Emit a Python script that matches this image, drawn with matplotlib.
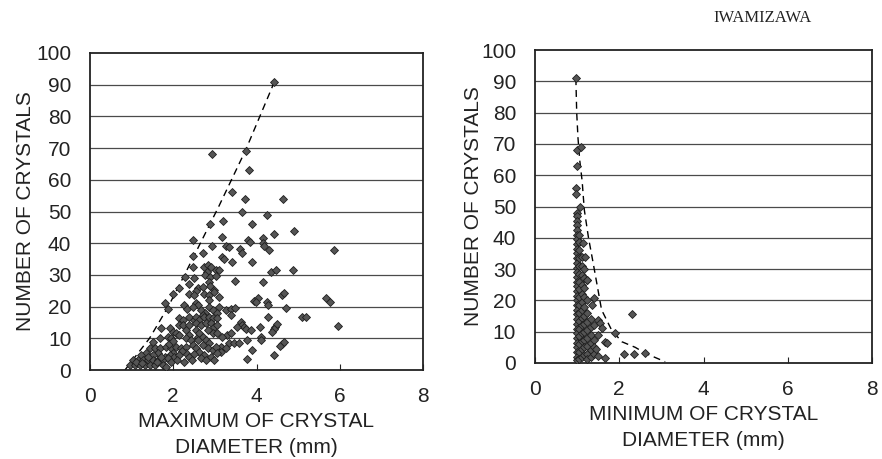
import matplotlib
matplotlib.use("Agg")
import matplotlib.pyplot as plt

# ---------------- data ----------------
title_text = "IWAMIZAWA"
y_label = "NUMBER OF CRYSTALS"
x_label_left = "MAXIMUM OF CRYSTAL\nDIAMETER (mm)"
x_label_right = "MINIMUM OF CRYSTAL\nDIAMETER (mm)"
x_ticks = [0, 2, 4, 6, 8]
y_ticks = [0, 10, 20, 30, 40, 50, 60, 70, 80, 90, 100]

# left panel: maximum diameter vs number of crystals
max_points = [
    (4.42, 91), (2.94, 68), (3.74, 69), (3.83, 63),
    (3.42, 56), (3.73, 54), (4.64, 54),
    (3.65, 50), (4.25, 49), (2.88, 46), (3.19, 47), (3.89, 46),
    (4.43, 43), (4.90, 44), (2.47, 41), (3.17, 42), (3.80, 41), (3.84, 40.5), (4.15, 41.5), (4.16, 40),
    (5.85, 38), (2.92, 39), (3.26, 39), (3.34, 38.7), (3.60, 38.3), (3.64, 37), (4.17, 39), (4.31, 38),
    (2.48, 36), (2.71, 37), (3.18, 35.7), (3.22, 35),
    (3.42, 34), (3.90, 34), (4.36, 31), (4.46, 31.5), (4.87, 31.5), (2.48, 32.6), (2.73, 32.6),
    (2.83, 33.1), (2.91, 32.6), (2.80, 31), (2.77, 30), (3.02, 31.5), (3.10, 31.5),
    (2.29, 29.2), (2.51, 29), (2.88, 29.2), (3.02, 29.7), (3.49, 28.1), (4.16, 27.7), (2.13, 25.8),
    (2.39, 27), (2.59, 26), (2.71, 26.3), (2.87, 27.7), (2.89, 26.6), (2.55, 25), (2.99, 25.2),
    (2.00, 24.1), (2.37, 24.1), (2.51, 23.7), (2.75, 24.1), (2.87, 23.7), (2.99, 24.7), (3.09, 23.1),
    (2.87, 22.1), (3.94, 21.9), (4.03, 22.6), (3.98, 21.3), (4.25, 21.5), (4.27, 20.4), (4.61, 23.7),
    (4.67, 24.3), (5.67, 22.6), (5.77, 21.5), (1.79, 21), (2.27, 20.5), (2.55, 21), (2.59, 20.5),
    (2.87, 20), (3.10, 20),
    (1.87, 19.4), (2.32, 19.4), (2.47, 20), (2.67, 18.9), (2.95, 18.9), (2.76, 18), (3.06, 17.9),
    (3.26, 18.9), (3.38, 19.4), (3.48, 19.5), (3.38, 17.4), (2.71, 17.4), (4.72, 19.7), (4.28, 16.6),
    (5.09, 16.8), (5.19, 16.8), (2.15, 16.3), (2.23, 15.8), (2.39, 16.8), (2.51, 15.8), (2.55, 16.8),
    (2.63, 15.8), (2.75, 16.8), (2.87, 16.8), (2.95, 16.3), (3.06, 16.3), (3.62, 15.2),
    (5.95, 13.9), (4.44, 13.7), (4.50, 14.5), (3.66, 14.2), (3.70, 13.7), (3.74, 12.8), (3.54, 13.7),
    (3.87, 12.5), (4.08, 13.6), (4.42, 12.8), (4.38, 12.1), (3.30, 11), (3.38, 11.6), (3.18, 10.5),
    (4.10, 10.5), (2.15, 14.2), (2.23, 14.2), (2.39, 14.2), (2.55, 14.7), (2.67, 14.2), (2.79, 14.7),
    (2.91, 14.7), (2.99, 13.7), (3.06, 14.2), (1.91, 13.2), (1.71, 13.2), (1.99, 12.1), (2.07, 11.6),
    (2.15, 11), (2.31, 12.6), (2.39, 11), (2.31, 10), (2.55, 12.6), (2.59, 10.5), (2.63, 11.6),
    (2.71, 10.5), (2.83, 12.6), (2.95, 11.6), (3.06, 11.6), (1.87, 10.5), (1.95, 10), (1.67, 10),
    (4.61, 8.2), (4.57, 7.5), (4.66, 8.9), (4.10, 9.5), (3.78, 9.5), (3.90, 6.3), (3.34, 8.4),
    (3.46, 8.4), (3.58, 8.4), (3.18, 6.8), (3.14, 7.4), (3.26, 6.8), (3.14, 5.8), (1.51, 8.9),
    (2.43, 9.5), (2.59, 9.5), (2.79, 9.5), (2.87, 8.4), (1.43, 6.8), (1.55, 6.8), (1.67, 6.8),
    (1.83, 7.4), (1.95, 6.8), (2.07, 7.4), (2.19, 7), (2.31, 7.4), (2.47, 8), (2.55, 6.8),
    (2.71, 7.9), (2.83, 6.8), (2.95, 6.3), (3.03, 7.4), (3.06, 5.3), (2.63, 5.8), (1.35, 5.3),
    (1.63, 5.3), (2.31, 5.3), (1.90, 8.2), (2.00, 9), (2.20, 6), (2.00, 5.5), (2.50, 5),
    (4.42, 4.7), (3.76, 3.5), (1.23, 4.7), (1.51, 4.7), (1.79, 4.2), (1.91, 4.7), (2.03, 4.2),
    (2.15, 4.7), (2.39, 4.2), (2.91, 4.2), (2.75, 4.7), (2.99, 3.2), (2.67, 3.7), (2.79, 3.2),
    (1.03, 3.2), (1.15, 3.2), (1.27, 3.2), (1.39, 3.2), (1.51, 3.2), (1.63, 3.2), (1.75, 3.2),
    (1.87, 3.7), (1.95, 2.6), (0.95, 1.6), (1.07, 1.6), (1.19, 1.6), (1.31, 1.6), (1.43, 1.6),
    (1.55, 1.6), (1.75, 1.6), (1.83, 1.1), (1.10, 2.5), (1.25, 2.2), (1.40, 4.0), (1.60, 2.4),
    (1.70, 4.0), (2.10, 3.0), (2.25, 2.5), (2.45, 3.0),
]
max_curve_x = [0.84, 1.43, 1.88, 2.27, 3.09, 3.74, 4.42]
max_curve_y = [0, 10, 20, 30, 51.5, 69.4, 90.6]

# right panel: minimum diameter vs number of crystals
min_points = [
    (0.97, 91), (0.99, 68), (1.09, 69), (0.99, 63), (0.97, 56), (0.97, 54),
    (0.99, 48), (1.07, 50), (0.99, 47),
    (0.99, 45.5), (0.99, 44), (0.99, 42.5), (0.99, 41), (0.99, 39.5), (0.99, 38), (0.99, 36.5),
    (0.99, 35), (0.99, 33.5), (0.99, 32), (0.99, 30.5), (0.99, 29), (0.99, 27.5), (0.99, 26),
    (0.99, 24.5), (0.99, 23), (0.99, 21.5), (0.99, 20), (0.99, 18.5), (0.99, 17), (0.99, 15.5),
    (0.99, 14), (0.99, 12.5), (0.99, 11), (0.99, 9.5), (0.99, 8), (0.99, 6.5), (0.99, 5),
    (0.99, 3.5), (0.99, 2), (0.99, 1),
    (1.05, 41), (1.05, 38.5), (1.05, 36), (1.05, 33.5), (1.05, 31), (1.05, 28.5), (1.05, 26),
    (1.05, 23.5), (1.05, 21), (1.05, 18.5), (1.05, 16), (1.05, 13.5), (1.05, 11), (1.05, 8.5),
    (1.05, 6), (1.05, 3.5), (1.05, 1.2),
    (1.11, 34), (1.11, 31), (1.11, 28), (1.11, 25), (1.11, 22), (1.11, 19.5), (1.11, 17),
    (1.11, 14.5), (1.11, 12), (1.11, 9.5), (1.11, 7), (1.11, 4.5), (1.11, 2),
    (1.17, 30), (1.17, 27), (1.17, 24), (1.17, 21), (1.17, 18), (1.17, 15), (1.17, 12.5),
    (1.17, 10), (1.17, 7.5), (1.17, 5), (1.17, 2.5),
    (1.24, 26.5), (1.24, 20), (1.24, 16), (1.24, 13), (1.24, 10.5), (1.24, 8), (1.24, 5.5),
    (1.24, 3), (1.24, 1.2),
    (1.32, 14), (1.32, 11.5), (1.32, 9), (1.32, 6.5), (1.32, 4), (1.32, 1.8),
    (1.40, 12), (1.40, 7.5), (1.40, 5), (1.40, 3),
    (1.15, 38.2), (1.19, 34), (1.23, 26.5), (1.41, 20.7), (1.36, 18.5), (2.31, 15.8),
    (1.50, 13.7), (1.54, 12.7), (1.58, 11.1), (1.50, 8.9), (1.66, 6.8), (1.72, 6.3),
    (1.90, 9.7), (1.66, 1.5), (2.12, 2.9), (2.34, 2.9), (2.61, 3.3), (1.45, 4.5), (1.50, 2.2),
]
min_curve_x = [0.97, 0.99, 1.02, 1.06, 1.12, 1.17, 1.27, 1.38, 1.50, 1.58, 1.82, 2.06, 2.38, 2.62, 3.09]
min_curve_y = [91, 80, 72, 65, 58, 49, 40, 32, 23, 17, 10.5, 6.8, 5.0, 3.1, 0.4]

# ---------------- drawing ----------------
plt.rcParams['font.family'] = ['Liberation Sans', 'DejaVu Sans']

fig = plt.figure(figsize=(8.82, 4.59), dpi=100)
ax1 = fig.add_axes([90 / 882, 1 - 370 / 459, 333 / 882, 317 / 459])
ax2 = fig.add_axes([535 / 882, 1 - 363 / 459, 337 / 882, 313 / 459])

panels = [
    (ax1, max_points, max_curve_x, max_curve_y, x_label_left, 1),
    (ax2, min_points, min_curve_x, min_curve_y, x_label_right, -1),
]

for ax, pts, cx, cy, xl, ypad in panels:
    xs = [p[0] for p in pts]
    ys = [p[1] for p in pts]
    ax.set_xlim(0, 8)
    ax.set_ylim(0, 100)
    for yv in y_ticks[1:-1]:
        ax.axhline(yv, color='#4a4a4a', lw=0.9, zorder=1)
    ax.plot(cx, cy, color='black', lw=1.0, linestyle=(0, (5, 3.5)), zorder=2)
    ax.plot(xs, ys, linestyle='none', marker='D', markersize=4.4,
            markerfacecolor='#555555', markeredgecolor='#1e1e1e',
            markeredgewidth=0.6, zorder=3)
    ax.set_xticks(x_ticks)
    ax.set_yticks(y_ticks)
    ax.tick_params(axis='x', direction='in', length=4, width=0.8, pad=12.5,
                   labelsize=15, colors='#222222')
    ax.tick_params(axis='y', length=0, pad=13.5, labelsize=15, colors='#222222')
    for s in ax.spines.values():
        s.set_linewidth(1.3)
        s.set_color('#222222')
    ax.set_xlabel(xl, fontsize=15, labelpad=4, linespacing=1.45, color='#222222')
    ax.set_ylabel(y_label, fontsize=15, labelpad=ypad, color='#222222')

fig.text(763 / 882, 1 - 18 / 459, title_text, ha='center', va='center',
         fontsize=12, family=['Liberation Serif', 'DejaVu Serif'], color='#222222')

fig.savefig("out.png", dpi=100)
